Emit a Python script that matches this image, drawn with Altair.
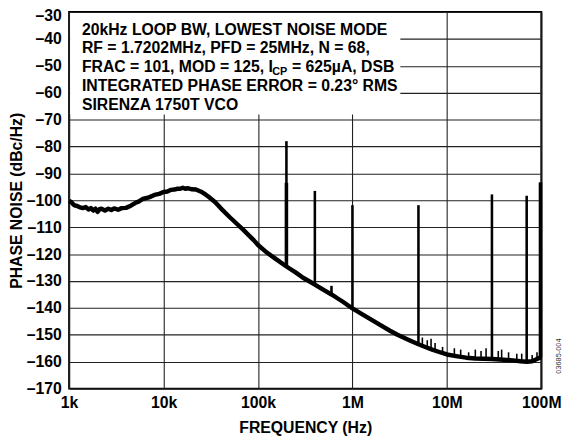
import altair as alt
import pandas as pd

# ---- data ----
FREQ = [1000, 1050, 1100, 1150, 1200, 1300, 1400, 1500, 1600, 1700, 1800, 1900, 2000, 2100, 2200,
        2400, 2600, 2800, 3000, 3300, 3600, 4000, 4500, 5000, 5500, 6000, 7000, 8000, 9000, 10000,
        11000, 12000, 13000, 14000, 15000, 16000, 17000, 18000, 20000, 22000, 25000, 28000,
        30000, 35000, 40000, 45000, 50000, 60000, 70000, 80000, 90000, 100000, 120000, 150000,
        200000, 250000, 300000, 400000, 500000, 600000, 700000, 800000, 1e6, 1.3e6, 1.7e6, 2e6,
        2.5e6, 3e6, 4e6, 5e6, 6e6, 7e6, 8e6, 1e7, 1.3e7, 1.6e7, 2e7, 3e7, 4e7, 5e7, 6e7, 7e7,
        8e7, 9e7, 1e8]
NOISE = [-100.2, -100.6, -101.4, -101.9, -102.0, -102.6, -102.9, -102.5, -103.4, -102.9, -103.8,
         -103.1, -104.3, -103.3, -103.1, -103.8, -103.1, -103.6, -103.0, -103.5, -102.9, -102.8,
         -102.0, -101.0, -100.4, -99.5, -98.9, -98.0, -97.6, -96.9, -96.7, -96.1, -96.0, -95.7,
         -95.7, -95.3, -95.7, -95.5, -95.9, -96.0, -96.8, -97.9, -98.7, -100.6, -102.8, -104.6,
         -106.2, -108.8, -111.0, -113.0, -114.8, -116.6, -119.0, -121.5, -124.6, -126.8, -128.8,
         -131.3, -133.4, -135.0, -136.5, -137.8, -140.2, -142.6, -145.0, -146.5, -148.5, -150.0,
         -152.0, -153.5, -154.6, -155.5, -156.2, -157.3, -158.0, -158.5, -158.8, -159.0, -159.3,
         -159.5, -159.8, -160.0, -159.8, -159.0, -158.3]

SPUR_FREQ = [200000, 400000, 600000, 1e6, 5e6, 3e7, 7e7, 9.8e7]
SPUR_TOP = [-78.0, -96.5, -131.8, -101.8, -101.8, -97.8, -98.3, -93.4]
SPUR_BASE = [-124.6, -131.3, -135.0, -140.2, -153.5, -159.0, -160.0, -158.3]

WIDE_FREQ = [200000, 9.8e7]
WIDE_TOP = [-93.5, -93.4]
WIDE_BASE = [-124.6, -158.3]

GRASS_FREQ = [5.5e6, 6.2e6, 6.8e6, 7.5e6, 9e6, 1.2e7, 1.4e7, 1.7e7, 2e7, 2.3e7, 2.6e7, 3.5e7,
              3.8e7, 4.5e7, 5.5e7, 6.2e7, 8e7, 9e7]
GRASS_TOP = [-151.0, -152.0, -151.5, -153.0, -154.5, -155.0, -155.5, -156.5, -155.5, -156.0,
             -155.0, -156.0, -155.5, -156.5, -157.0, -157.0, -157.5, -156.5]
GRASS_BASE = [-154.0, -154.6, -155.1, -155.6, -156.8, -157.8, -158.2, -158.6, -158.8, -158.9,
              -159.0, -159.2, -159.3, -159.4, -159.6, -159.8, -159.8, -159.0]

X_TICKS = [1e3, 1e4, 1e5, 1e6, 1e7, 1e8]
Y_TICKS = [-170, -160, -150, -140, -130, -120, -110, -100, -90, -80, -70, -60, -50, -40, -30]

NOTE_LINES = ["20kHz LOOP BW, LOWEST NOISE MODE",
              "RF = 1.7202MHz, PFD = 25MHz, N = 68,",
              "FRAC = 101, MOD = 125, I",
              "CP",
              "= 625\u00b5A, DSB",
              "INTEGRATED PHASE ERROR = 0.23\u00b0 RMS",
              "SIRENZA 1750T VCO"]
FIG_ID = "03685-004"

FONT = "Liberation Sans"
FS = 16

curve = pd.DataFrame({"f": FREQ, "db": NOISE})
spurs = pd.DataFrame({"f": SPUR_FREQ, "top": SPUR_TOP, "base": SPUR_BASE})
wide = pd.DataFrame({"f": WIDE_FREQ, "top": WIDE_TOP, "base": WIDE_BASE})
grass = pd.DataFrame({"f": GRASS_FREQ, "top": GRASS_TOP, "base": GRASS_BASE})

xscale = alt.Scale(type="log", domain=[1e3, 1e8], nice=False)
yscale = alt.Scale(domain=[-170, -30], nice=False, zero=False)

xaxis = alt.Axis(values=X_TICKS, title="FREQUENCY (Hz)",
                 labelExpr="datum.value >= 1e6 ? format(datum.value/1e6, 'd') + 'M' : format(datum.value/1e3, 'd') + 'k'",
                 grid=True, ticks=False, tickSize=0, domain=False, labelPadding=6, titlePadding=10,
                 labelFlush=False)
yaxis = alt.Axis(values=Y_TICKS, title="PHASE NOISE (dBc/Hz)",
                 labelExpr="'\u2013' + format(abs(datum.value), 'd')",
                 grid=True, ticks=False, tickSize=0, domain=False, labelPadding=8, titlePadding=2,
                 labelOffset={"condition": {"test": "datum.value == -30", "value": 3.5}, "value": 0})

X = alt.X("f:Q", scale=xscale, axis=xaxis)

line = alt.Chart(curve).mark_line(color="black", strokeWidth=4.5, strokeJoin="round").encode(
    x=X, y=alt.Y("db:Q", scale=yscale, axis=yaxis))

grass_l = alt.Chart(grass).mark_rule(color="black", strokeWidth=1.6).encode(
    x=X, y=alt.Y("top:Q", scale=yscale, axis=yaxis), y2="base:Q")

spur_l = alt.Chart(spurs).mark_rule(color="black", strokeWidth=2.6).encode(
    x=X, y=alt.Y("top:Q", scale=yscale, axis=yaxis), y2="base:Q")

wide_l = alt.Chart(wide).mark_rule(color="black", strokeWidth=3.6).encode(
    x=X, y=alt.Y("top:Q", scale=yscale, axis=yaxis), y2="base:Q")

one = pd.DataFrame({"a": [0]})
box = alt.Chart(one).mark_rect(color="white", opacity=1).encode(
    x=alt.value(1), x2=alt.value(336), y=alt.value(1), y2=alt.value(104))

def note(txt, x, y, size=FS):
    return alt.Chart(pd.DataFrame({"t": [txt]})).mark_text(
        font=FONT, fontWeight="bold", fontSize=size, color="black",
        align="left", baseline="alphabetic").encode(
        text="t:N", x=alt.value(x), y=alt.value(y))

notes = [
    note(NOTE_LINES[0], 13, 23),
    note(NOTE_LINES[1], 13, 42),
    note(NOTE_LINES[2], 13, 61),
    note(NOTE_LINES[3], 206, 64, 11),
    note(NOTE_LINES[4], 226, 61),
    note(NOTE_LINES[5], 13, 80),
    note(NOTE_LINES[6], 13, 99),
]

fig = alt.Chart(pd.DataFrame({"t": [FIG_ID]})).mark_text(
    font=FONT, fontSize=7.5, color="#333", angle=270, align="center", baseline="middle").encode(
    text="t:N", x=alt.value(497), y=alt.value(349))

chart = alt.layer(line, grass_l, spur_l, wide_l, box, *notes, fig).properties(
    width=479, height=382,
    autosize=alt.AutoSizeParams(type="none"),
    padding={"left": 62, "top": 1, "right": 22, "bottom": 47},
).configure_view(stroke="black", strokeWidth=2).configure_axis(
    labelFont=FONT, labelFontWeight="bold", labelFontSize=FS, labelColor="black",
    titleFont=FONT, titleFontWeight="bold", titleFontSize=FS, titleColor="black",
    gridColor="#222", gridWidth=1.1, gridOpacity=1,
)

chart.save("out.html", embed_options={"renderer": "svg", "actions": False})
